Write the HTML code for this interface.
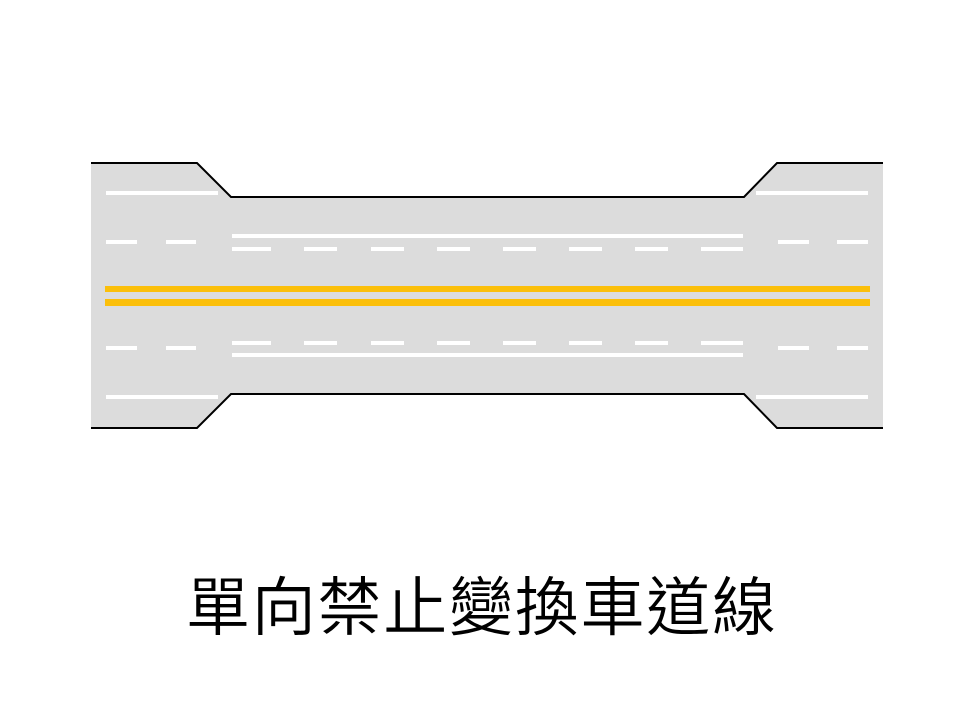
<!DOCTYPE html>
<html><head><meta charset="utf-8"><style>
html,body{margin:0;padding:0;background:#fff;width:960px;height:720px;overflow:hidden}
</style></head><body>
<svg width="960" height="720" viewBox="0 0 960 720" xmlns="http://www.w3.org/2000/svg">
<polygon points="91,163 197,163 231,197 744,197 777,163 883,163 883,428 777,428 744,394 231,394 197,428 91,428" fill="#dcdcdc"/>
<polyline points="91,163 197,163 231,197 744,197 777,163 883,163" fill="none" stroke="#000" stroke-width="2"/>
<polyline points="91,428 197,428 231,394 744,394 777,428 883,428" fill="none" stroke="#000" stroke-width="2"/>
<g fill="#fff">
<rect x="106" y="191" width="112" height="4"/>
<rect x="106" y="395" width="112" height="4"/>
<rect x="756" y="191" width="112" height="4"/>
<rect x="756" y="395" width="112" height="4"/>
<rect x="106" y="240" width="31" height="4"/><rect x="166" y="240" width="30" height="4"/>
<rect x="106" y="346" width="31" height="4"/><rect x="166" y="346" width="30" height="4"/>
<rect x="778" y="240" width="31" height="4"/><rect x="837" y="240" width="31" height="4"/>
<rect x="778" y="346" width="31" height="4"/><rect x="837" y="346" width="31" height="4"/>
<rect x="232" y="234" width="511" height="4"/>
<rect x="232" y="353" width="511" height="4"/>
<rect x="232" y="247" width="39" height="4"/><rect x="304" y="247" width="33" height="4"/><rect x="371" y="247" width="33" height="4"/><rect x="437" y="247" width="33" height="4"/><rect x="503" y="247" width="33" height="4"/><rect x="569" y="247" width="33" height="4"/><rect x="635" y="247" width="33" height="4"/><rect x="701" y="247" width="42" height="4"/>
<rect x="232" y="341" width="39" height="4"/><rect x="304" y="341" width="33" height="4"/><rect x="371" y="341" width="33" height="4"/><rect x="437" y="341" width="33" height="4"/><rect x="503" y="341" width="33" height="4"/><rect x="569" y="341" width="33" height="4"/><rect x="635" y="341" width="33" height="4"/><rect x="701" y="341" width="42" height="4"/>
</g>
<rect x="105" y="286" width="765" height="6" fill="#fbbf0a"/>
<rect x="105" y="299" width="765" height="7" fill="#fbbf0a"/>
<text x="186" y="630" font-family="'Noto Sans CJK TC','WenQuanYi Zen Hei',sans-serif" font-size="64" font-weight="350" textLength="590" lengthAdjust="spacing" fill="#000">單向禁止變換車道線</text>
</svg>
</body></html>
